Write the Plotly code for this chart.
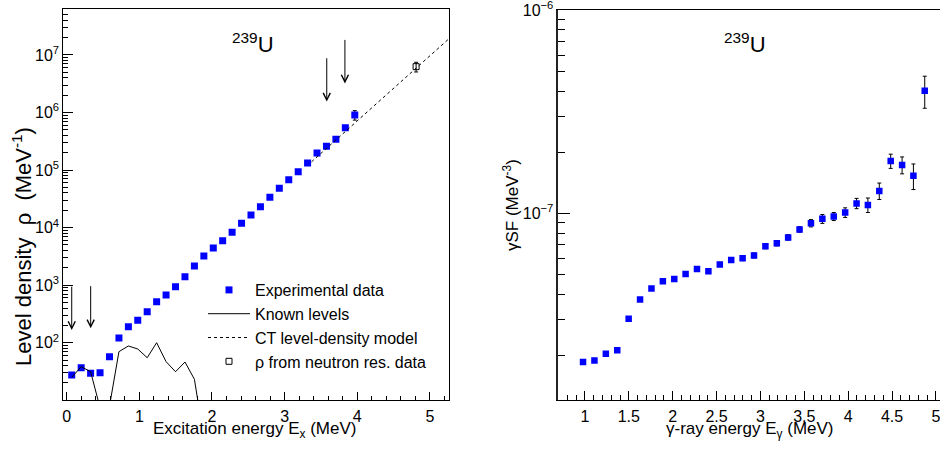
import numpy as np
import plotly.graph_objects as go

# ---------------- Left panel: level density ----------------
ex_energy = [0.069, 0.199, 0.329, 0.459, 0.589, 0.719, 0.849, 0.978, 1.108, 1.238,
             1.368, 1.498, 1.628, 1.758, 1.888, 2.018, 2.147, 2.277, 2.407, 2.537,
             2.667, 2.797, 2.927, 3.057, 3.187, 3.316, 3.446, 3.576, 3.706, 3.836, 3.966]
rho_exp = [27.4, 36.7, 29.4, 30.1, 57, 121, 190, 245, 346, 516,
           675, 940, 1400, 2150, 3210, 4430, 5930, 8300, 11900, 16600,
           23100, 33700, 48300, 68100, 93800, 133000, 198000, 259000, 343000, 546000, 908000]
rho_exp_err = [0] * 30 + [170000]

known_energy = ex_energy[:15]
known_rho = [25, 38.3, 31.3, 7.4, 7.9, 69.8, 87.7, 77.7, 54.8, 100, 46.8, 31.3, 46.2, 23.1, 2.2]

ct_energy = [3.37, 5.263]
ct_rho = [1.39e5, 1.92e7]

neutron_energy = [4.81]
neutron_rho = [6.27e6]
neutron_err = [1.2e6]

arrow_left_x = [0.069, 0.33, 3.58, 3.83]
arrow_left_tail = [1.0e3, 1.02e3, 9.3e6, 1.94e7]
arrow_left_tip = [166, 178, 1.55e6, 3.2e6]

# ---------------- Right panel: gamma strength function ----------------
eg_energy = [0.978, 1.108, 1.238, 1.368, 1.498, 1.628, 1.758, 1.888, 2.018, 2.147,
             2.277, 2.407, 2.537, 2.667, 2.797, 2.927, 3.057, 3.187, 3.316, 3.446,
             3.576, 3.706, 3.836, 3.966, 4.096, 4.225, 4.355, 4.485, 4.615, 4.744, 4.873]
gsf = [1.86e-8, 1.89e-8, 2.04e-8, 2.12e-8, 3.03e-8, 3.77e-8, 4.27e-8, 4.64e-8, 4.75e-8, 5.03e-8,
       5.32e-8, 5.19e-8, 5.61e-8, 5.89e-8, 6.01e-8, 6.21e-8, 6.89e-8, 7.12e-8, 7.62e-8, 8.34e-8,
       8.95e-8, 9.40e-8, 9.66e-8, 1.01e-7, 1.12e-7, 1.10e-7, 1.29e-7, 1.81e-7, 1.73e-7, 1.53e-7, 4.01e-7]
gsf_err = [0.4e-9, 0.4e-9, 0.4e-9, 0.5e-9, 0.6e-9, 0.8e-9, 0.9e-9, 1.0e-9, 1.0e-9, 1.1e-9,
           1.2e-9, 1.2e-9, 1.3e-9, 1.4e-9, 1.5e-9, 1.7e-9, 1.9e-9, 2.0e-9, 2.3e-9, 2.6e-9,
           3.7e-9, 4.7e-9, 4.4e-9, 5.5e-9, 6.5e-9, 9.0e-9, 1.2e-8, 1.45e-8, 1.65e-8, 2.2e-8, 7.2e-8]

FONT = "Liberation Sans, Arial, Helvetica, sans-serif"
BLUE = "#0000ff"

fig = go.Figure()

fig.add_trace(go.Scatter(
    x=ex_energy, y=rho_exp, mode="markers", name="Experimental data",
    marker=dict(symbol="square", size=7, color=BLUE, line=dict(width=0)),
    error_y=dict(type="data", array=rho_exp_err, color="black", thickness=1, width=2),
    xaxis="x", yaxis="y"))
fig.add_trace(go.Scatter(
    x=known_energy, y=known_rho, mode="lines", name="Known levels",
    line=dict(color="black", width=1), xaxis="x", yaxis="y"))
fig.add_trace(go.Scatter(
    x=ct_energy, y=ct_rho, mode="lines", name="CT level-density model",
    line=dict(color="black", width=1, dash="dot"), xaxis="x", yaxis="y"))
fig.add_trace(go.Scatter(
    x=neutron_energy, y=neutron_rho, mode="markers", name="ρ from neutron res. data",
    marker=dict(symbol="square-open", size=6, color="black", line=dict(width=1)),
    error_y=dict(type="data", array=neutron_err, color="black", thickness=1, width=2),
    xaxis="x", yaxis="y"))

fig.add_trace(go.Scatter(
    x=eg_energy, y=gsf, mode="markers", name="gSF", showlegend=False,
    marker=dict(symbol="square", size=6.5, color=BLUE, line=dict(width=0)),
    error_y=dict(type="data", array=gsf_err, color="black", thickness=1, width=2),
    xaxis="x2", yaxis="y2"))


def log_minor(lo, hi):
    vals = []
    for n in range(lo, hi + 1):
        for k in range(2, 10):
            vals.append(k * 10.0 ** n)
    return vals


left_x_minor = [round(v, 2) for v in np.arange(0, 5.21, 0.2) if abs(v - round(v)) > 1e-6]
right_x_minor = [round(v, 2) for v in np.arange(0.7, 5.05, 0.1)
                 if abs(v * 2 - round(v * 2)) > 1e-6]

tickfont = dict(family=FONT, size=16, color="black")

fig.update_layout(
    width=940, height=451,
    margin=dict(l=0, r=0, t=0, b=0, autoexpand=False),
    paper_bgcolor="white", plot_bgcolor="white",
    font=dict(family=FONT, size=16, color="black"),
    showlegend=True,
    legend=dict(x=203 / 940, xanchor="left", y=(451 - 273) / 451, yanchor="top",
                bgcolor="rgba(0,0,0,0)", borderwidth=0, itemwidth=42,
                font=dict(family=FONT, size=16, color="black")),
    xaxis=dict(domain=[63.3 / 940, 449 / 940], range=[-0.047, 5.263], anchor="y",
               automargin=False,
               showline=True, linecolor="black", linewidth=1, mirror=True,
               showgrid=False, zeroline=False,
               ticks="inside", ticklen=8, tickcolor="black",
               tickvals=[0, 1, 2, 3, 4, 5], tickfont=tickfont, ticklabelstandoff=2,
               minor=dict(tickvals=left_x_minor, ticks="inside", ticklen=4,
                          tickcolor="black", showgrid=False)),
    yaxis=dict(domain=[(451 - 400) / 451, (451 - 9.3) / 451], type="log",
               range=[1.004, 7.794], anchor="x", automargin=False,
               showline=True, linecolor="black", linewidth=1, mirror=True,
               showgrid=False, zeroline=False,
               ticks="inside", ticklen=10, tickcolor="black",
               tickvals=[1e2, 1e3, 1e4, 1e5, 1e6, 1e7],
               ticktext=["10<sup>2</sup>", "10<sup>3</sup>", "10<sup>4</sup>",
                         "10<sup>5</sup>", "10<sup>6</sup>", "10<sup>7</sup>"],
               tickfont=tickfont,
               minor=dict(tickvals=log_minor(1, 7), ticks="inside", ticklen=5,
                          tickcolor="black", showgrid=False)),
    xaxis2=dict(domain=[558.3 / 940, 1.0], range=[0.696, 5.047], anchor="y2",
                automargin=False,
                showline=True, linecolor="black", linewidth=1, mirror=True,
                showgrid=False, zeroline=False,
                ticks="inside", ticklen=9, tickcolor="black",
                tickvals=[1, 1.5, 2, 2.5, 3, 3.5, 4, 4.5, 5],
                ticktext=["1", "1.5", "2", "2.5", "3", "3.5", "4", "4.5", "5"],
                tickfont=tickfont, ticklabelstandoff=2, ticklabeloverflow="allow",
                minor=dict(tickvals=right_x_minor, ticks="inside", ticklen=5,
                           tickcolor="black", showgrid=False)),
    yaxis2=dict(domain=[(451 - 400) / 451, (451 - 10) / 451], type="log",
                range=[-7.918, -5.9995], anchor="x2", automargin=False,
                showline=True, linecolor="#222222", linewidth=1.5, mirror=True,
                showgrid=False, zeroline=False,
                ticks="inside", ticklen=12, tickcolor="black",
                tickvals=[1e-7, 1e-6],
                ticktext=["10<sup>−7</sup>", "10<sup>−6</sup>"],
                tickfont=tickfont, ticklabeloverflow="allow",
                minor=dict(tickvals=log_minor(-8, -7), ticks="inside", ticklen=7,
                           tickcolor="black", showgrid=False)),
)

annotations = []
# nucleus labels
for xc in [253 / 940, 745 / 940]:
    annotations.append(dict(xref="paper", yref="paper", x=xc, y=(451 - 43) / 451,
                            text="<sup>239</sup>U", showarrow=False,
                            font=dict(family=FONT, size=22, color="black"),
                            xanchor="center", yanchor="middle"))
# axis titles
annotations.append(dict(xref="paper", yref="paper", x=255 / 940, y=(451 - 430) / 451,
                        text="Excitation energy E<sub>x</sub> (MeV)", showarrow=False,
                        font=dict(family=FONT, size=17), xanchor="center", yanchor="middle"))
annotations.append(dict(xref="paper", yref="paper", x=750 / 940, y=(451 - 430) / 451,
                        text="γ-ray energy E<sub>γ</sub> (MeV)", showarrow=False,
                        font=dict(family=FONT, size=17), xanchor="center", yanchor="middle"))
annotations.append(dict(xref="paper", yref="paper", x=22 / 940, y=(451 - 247) / 451,
                        text="Level density  ρ  (MeV<sup>-1</sup>)", showarrow=False,
                        textangle=-90,
                        font=dict(family=FONT, size=22), xanchor="center", yanchor="middle"))
annotations.append(dict(xref="paper", yref="paper", x=511 / 940, y=(451 - 205) / 451,
                        text="γSF (MeV<sup>-3</sup>)", showarrow=False,
                        textangle=-90,
                        font=dict(family=FONT, size=17), xanchor="center", yanchor="middle"))
# arrows
for ax_, tail, tip in zip(arrow_left_x, arrow_left_tail, arrow_left_tip):
    annotations.append(dict(xref="x", yref="y", x=ax_, y=np.log10(tip),
                            axref="x", ayref="y", ax=ax_, ay=np.log10(tail),
                            text="", showarrow=True, arrowhead=5, arrowsize=1.4,
                            arrowwidth=1, arrowcolor="black", standoff=0))
fig.update_layout(annotations=annotations)

fig.write_html("out.html")
